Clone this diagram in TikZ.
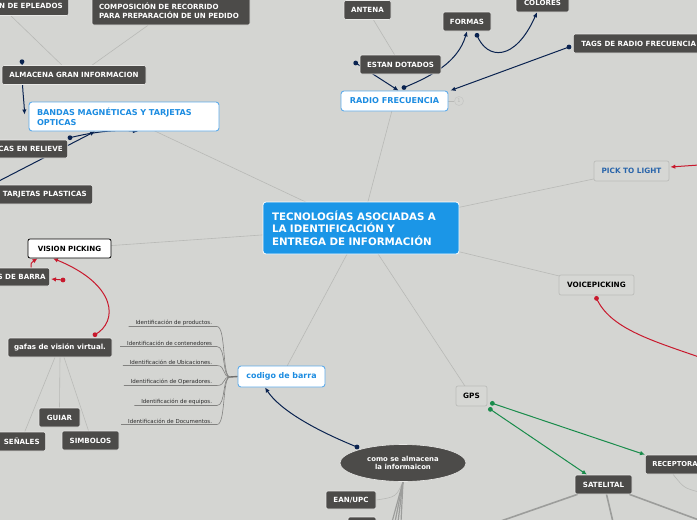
\documentclass[tikz,border=0pt]{standalone}
\usepackage{fontspec}
\setmainfont{DejaVu Sans}
\usetikzlibrary{arrows.meta,shapes.geometric}
\pgfdeclarelayer{bgfill}
\pgfdeclarelayer{links}
\pgfsetlayers{bgfill,links,main}
\definecolor{bgc}{RGB}{212,213,210}
\definecolor{darkc}{RGB}{76,75,73}
\definecolor{edgec}{RGB}{232,232,230}
\definecolor{centerc}{RGB}{27,150,231}
\definecolor{blueedge}{RGB}{95,172,235}
\definecolor{bluetext}{RGB}{28,140,225}
\definecolor{lightc}{RGB}{214,215,212}
\definecolor{lightedge}{RGB}{188,189,186}
\definecolor{picktext}{RGB}{40,100,170}
\definecolor{navyc}{RGB}{10,35,80}
\definecolor{redc}{RGB}{200,25,45}
\definecolor{greenc}{RGB}{25,140,75}
\definecolor{glinec}{RGB}{184,185,182}
\definecolor{leaftext}{RGB}{45,45,45}
\definecolor{leafline}{RGB}{130,130,128}
\begin{document}
\begin{tikzpicture}[x=1pt,y=-1pt,
  darkbox/.style={rectangle, rounded corners=2pt, fill=darkc, draw=edgec, line width=0.6pt,
    text=white, font=\fontsize{7.1}{8.8}\selectfont\bfseries, inner xsep=6pt, inner ysep=0pt, minimum height=19pt},
  bluebox/.style={rectangle, rounded corners=3pt, fill=white, draw=blueedge, line width=0.9pt,
    text=bluetext, font=\fontsize{8.1}{9.6}\selectfont\bfseries, inner ysep=0pt, minimum height=20pt},
  lightbox/.style={rectangle, rounded corners=2pt, fill=lightc, draw=lightedge, line width=0.7pt,
    text=black, font=\fontsize{7.3}{8.5}\selectfont\bfseries, inner ysep=0pt, minimum height=20pt},
  leaf/.style={anchor=south east, inner sep=0.8pt, text=leaftext, font=\fontsize{5.5}{6.5}\selectfont},
  gline/.style={draw=glinec, line width=0.6pt},
  thickg/.style={draw=glinec!85!black, line width=1.6pt},
  leafl/.style={draw=leafline, line width=0.6pt},
  navyarrow/.style={draw=navyc, line width=1pt, -{Latex[length=5pt,width=4.5pt]}},
  redarrow/.style={draw=redc, line width=1pt, -{Latex[length=5pt,width=4.5pt]}},
  greenarrow/.style={draw=greenc, line width=1pt, -{Latex[length=5pt,width=4.5pt]}},
  dotr/.style={radius=2.4pt}
]
\begin{pgfonlayer}{bgfill}
\fill[bgc] (0,0) rectangle (697,520);
\end{pgfonlayer}
\useasboundingbox (0,0) rectangle (697,520);

% ---------- nodes ----------
\node[rectangle, rounded corners=3pt, fill=centerc, draw=white, line width=0.8pt, text=white,
  font=\fontsize{10.3}{12.4}\selectfont\bfseries, text width=178pt, align=left, inner xsep=9pt,
  minimum height=52pt] (center) at (361,228)
  {TECNOLOGÍAS ASOCIADAS A\\LA IDENTIFICACIÓN Y\\ENTREGA DE INFORMACIÓN};

\node[darkbox, anchor=east] (epleados) at (69,6) {N DE EPLEADOS};
\node[darkbox, text width=144pt, align=left, inner xsep=7pt, minimum height=28pt] (compos) at (171,11)
  {COMPOSICIÓN DE RECORRIDO\\PARA PREPARACIÓN DE UN PEDIDO};
\node[darkbox, minimum width=144pt] (almacena) at (74,75) {ALMACENA GRAN INFORMACION};
\node[bluebox, text width=174pt, align=left, inner xsep=8pt, minimum height=29pt] (bandas) at (124,116.5)
  {BANDAS MAGNÉTICAS Y TARJETAS\\OPTICAS};
\node[darkbox, anchor=east, minimum height=18pt, inner xsep=5pt] (relieve) at (68,149) {CAS EN RELIEVE};
\node[darkbox, anchor=east] (plasticas) at (93,194.5) {TARJETAS PLASTICAS};
\node[rectangle, rounded corners=2pt, fill=white, draw=black, line width=0.8pt, text=black,
  font=\fontsize{7.1}{8.6}\selectfont\bfseries, minimum width=83pt, minimum height=19pt, inner ysep=0pt]
  (vision) at (69.5,248.5) {VISION PICKING};
\node[darkbox, anchor=east, minimum height=18pt, inner xsep=4pt] (sbarra) at (50,277) {S DE BARRA};
\node[darkbox, minimum width=104pt] (gafas) at (60,347.5) {gafas de visión virtual.};
\node[darkbox, minimum width=41pt] (guiar) at (59.5,417.5) {GUIAR};
\node[darkbox, anchor=east] (senales) at (46,441.5) {SEÑALES};
\node[darkbox, minimum width=57pt] (simbolos) at (90.5,440.5) {SIMBOLOS};
\node[bluebox, minimum width=87pt, minimum height=21pt, font=\fontsize{7.9}{9}\selectfont\bfseries] (codigo) at (281.5,376.5) {codigo de barra};
\node[bluebox, minimum width=107pt] (radio) at (394.5,101) {RADIO FRECUENCIA};
\node[circle, draw=glinec!80!white, line width=0.6pt, minimum size=9pt, inner sep=0pt,
  text=glinec, font=\fontsize{5}{5}\selectfont] (rfcount) at (459,101) {1};
\node[darkbox, minimum width=47pt] (antena) at (367.5,10) {ANTENA};
\node[darkbox, minimum width=81pt] (estan) at (400.5,64.5) {ESTAN DOTADOS};
\node[darkbox, minimum width=48pt] (formas) at (467,21.5) {FORMAS};
\node[darkbox, minimum width=53pt, minimum height=18pt] (colores) at (542.5,3) {COLORES};
\node[darkbox, anchor=west, inner xsep=8pt] (tags) at (573,43.5) {TAGS DE RADIO FRECUENCIA};
\node[lightbox, minimum width=75pt, text=picktext] (pick) at (631.5,171) {PICK TO LIGHT};
\node[lightbox, minimum width=75pt] (voice) at (596.5,285) {VOICEPICKING};
\node[lightbox, minimum width=31pt] (gps) at (471.5,396) {GPS};
\node[darkbox, anchor=west, inner xsep=7pt, font=\fontsize{6.8}{8}\selectfont\bfseries] (receptora) at (645,464.5) {RECEPTORA};
\node[darkbox, minimum width=57pt] (satelital) at (603.5,484.5) {SATELITAL};
\node[ellipse, fill=darkc, draw=edgec, line width=0.6pt, minimum width=126pt, minimum height=37pt,
  inner sep=0pt, text=white, align=center, font=\fontsize{6.9}{8.4}\selectfont\bfseries] (ell) at (403,463)
  {como se almacena\\la informaicon};
\node[darkbox, minimum width=50pt, minimum height=18pt] (eanupc) at (351,500) {EAN/UPC};
\node[darkbox, minimum width=28pt, minimum height=20pt] (lowbox) at (362,527) {};

% leaves of codigo de barra
\node[leaf] (leaf1) at (213,326.5) {Identificación de productos.};
\node[leaf] (leaf2) at (213,346.5) {Identificación de contenedores};
\node[leaf] (leaf3) at (213,365.5) {Identificación de Ubicaciones.};
\node[leaf] (leaf4) at (213,385.5) {Identificación de Operadores.};
\node[leaf] (leaf5) at (213,405.5) {Identificación de equipos.};
\node[leaf] (leaf6) at (213,424.5) {Identificación de Documentos.};
\coordinate (jn) at (230,377);

% connector start points (dots)
\coordinate (sAlm) at ([xshift=-52pt,yshift=3.5pt]almacena.north);
\coordinate (sRel) at ([xshift=2pt,yshift=2pt]relieve.north east);
\coordinate (sRad) at ([xshift=9.5pt,yshift=3pt]radio.north);
\coordinate (sFor) at ([xshift=10pt,yshift=-4pt]formas.south);
\coordinate (sEst) at ([xshift=-4pt,yshift=1.5pt]estan.west);
\coordinate (sTag) at ([xshift=-4pt,yshift=-3.5pt]tags.west);
\coordinate (sEll) at ([xshift=-46pt,yshift=16pt]ell.center);
\coordinate (sGaf) at ([xshift=35pt,yshift=3pt]gafas.north);
\coordinate (sBar) at ([xshift=13pt,yshift=-3pt]sbarra.east);
\coordinate (sVoi) at ([yshift=-3pt]voice.south);
\coordinate (sGp1) at ([xshift=5pt,yshift=3pt]gps.south east);
\coordinate (sGp2) at ([xshift=3pt,yshift=-3pt]gps.south east);

% off-canvas coordinates
\coordinate (offL) at (-3,182);
\coordinate (offPick) at (699,165);
\coordinate (offVoice) at (699,357);
\coordinate (offR) at (699,492);
\coordinate (offS1) at (498,522);
\coordinate (offS2) at (613,522);
\coordinate (offS3) at (699,520);
\coordinate (offE1) at (392,522);
\coordinate (offE2) at (395,522);
\coordinate (offE3) at (398,522);
\coordinate (offE4) at (401,522);

% ---------- connectors (beneath nodes) ----------
\begin{pgfonlayer}{links}
% thin gray tree lines
\draw[gline] (bandas.center) -- (center.center);
\draw[gline] (vision.center) -- (center.center);
\draw[gline] (codigo.center) -- (center.center);
\draw[gline] (radio.center) -- (center.center);
\draw[gline] (pick.center) -- (center.center);
\draw[gline] (voice.center) -- (center.center);
\draw[gline] (gps.center) -- (center.center);
\draw[gline] (antena.center) -- (estan.center);
\draw[gline] ([xshift=-20pt]epleados.south) -- ([xshift=-12pt]almacena.north);
\draw[gline] ([xshift=-23pt]compos.south) -- ([xshift=18pt]almacena.north);
\draw[gline] ([xshift=-5pt]gafas.south) -- ([xshift=3pt]senales.north);
\draw[gline] (gafas.south) -- (guiar.north);
\draw[gline] ([xshift=4pt]gafas.south) -- ([xshift=-2pt]simbolos.north);
\draw[gline] (radio.east) -- (rfcount.west);
\draw[gline] (ell.south) .. controls (396,497) .. (eanupc.east);
\draw[gline] ([xshift=-2pt]receptora.south) .. controls (684,488) .. (offR);
\draw[thickg] ([xshift=3pt]satelital.south west) -- (offS1);
\draw[thickg] ([xshift=3pt]satelital.south) -- (offS2);
\draw[thickg] ([xshift=-3pt]satelital.south east) -- (offS3);
\draw[thickg, line width=1.2pt] (ell.south) -- (offE1);
\draw[thickg, line width=1.2pt] (ell.south) -- (offE2);
\draw[thickg, line width=1.2pt] (ell.south) -- (offE3);
\draw[thickg, line width=1.2pt] (ell.south) -- (offE4);
% leaf brackets
\foreach \i in {1,...,6}{
  \draw[leafl] ([xshift=-6pt]leaf\i.south west) -- ([xshift=4pt]leaf\i.south east)
     .. controls +(9,0) and (222,377) .. (jn);
}
\draw[draw=darkc!80!white, line width=1.4pt] (jn) -- (codigo.west);

% navy connectors
\draw[navyarrow] (sAlm) .. controls (22,90) and (24,100) .. ([xshift=-4pt,yshift=2pt]bandas.west);
\draw[navyarrow] (sRel) .. controls (85,134) and (110,129) .. ([xshift=14pt]bandas.south);
\draw[navyarrow] (offL) -- ([xshift=-29pt]bandas.south);
\draw[navyarrow] (sRad) .. controls (432,76) and (458,62) .. (formas.south);
\draw[navyarrow] (sFor) .. controls (487,60) and (515,62) .. ([xshift=-5.5pt]colores.south);
\draw[navyarrow] (sEst) -- ([xshift=4pt]radio.north);
\draw[navyarrow] (sTag) -- ([xshift=2pt]radio.north east);
\draw[navyarrow] (sEll) .. controls (315,430) and (280,410) .. ([xshift=-16.5pt]codigo.south);
\foreach \p in {sAlm,sRel,sRad,sFor,sEst,sTag,sEll} \fill[navyc] (\p) circle[dotr];

% red connectors
\draw[redarrow] (sGaf) .. controls (118,322) and (118,285) .. ([xshift=-16.5pt]vision.south);
\draw[redarrow] ([xshift=-19pt]sbarra.north east) .. controls ([xshift=-19pt,yshift=5pt]sbarra.north east) .. ([xshift=-32pt]vision.south);
\draw[redarrow] (sBar) -- ([xshift=1pt,yshift=-2pt]sbarra.east);
\draw[redarrow] (offPick) -- ([xshift=1pt,yshift=4pt]pick.east);
\draw[redc, line width=1pt] (sVoi) .. controls (610,328) and (650,340) .. (offVoice);
\foreach \p in {sGaf,sBar,sVoi} \fill[redc] (\p) circle[dotr];

% green connectors
\draw[greenarrow] (sGp1) -- (receptora.north west);
\draw[greenarrow] (sGp2) -- ([xshift=-16.5pt]satelital.north);
\foreach \p in {sGp1,sGp2} \fill[greenc] (\p) circle[dotr];
\end{pgfonlayer}
\end{tikzpicture}
\end{document}
